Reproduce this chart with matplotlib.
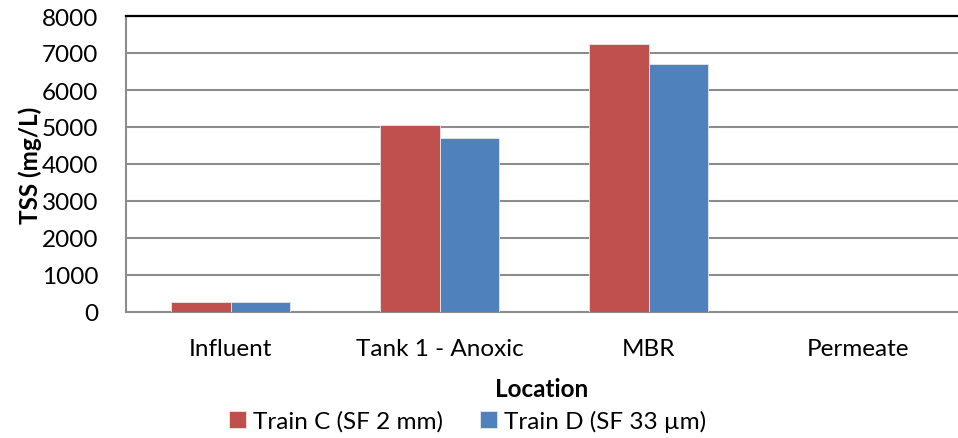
import numpy as np
import matplotlib
matplotlib.use('Agg')
import matplotlib.pyplot as plt

plt.rcParams['font.family'] = ['Lato', 'DejaVu Sans']

locations = ['Influent', 'Tank 1 - Anoxic', 'MBR', 'Permeate']
train_c = [270, 5050, 7230, 0]
train_d = [270, 4700, 6700, 0]
series_names = ['Train C (SF 2 mm)', 'Train D (SF 33 µm)']
colors = ['#C0504D', '#4F81BD']

fs = 17.5

fig = plt.figure(figsize=(9.58, 4.39), dpi=100)
ax = fig.add_axes([126 / 958, 1 - 313 / 439, 1 - 126 / 958, 296 / 439])

x = np.arange(len(locations))
w = 0.283
ax.bar(x - w / 2, train_c, w, color=colors[0], edgecolor='#e8e8e8', linewidth=0.6,
       label=series_names[0], zorder=3)
ax.bar(x + w / 2, train_d, w, color=colors[1], edgecolor='#e8e8e8', linewidth=0.6,
       label=series_names[1], zorder=3)

ax.set_xlim(-0.5, 3.48)
ax.set_ylim(0, 8000)
ax.set_yticks(np.arange(0, 8001, 1000))
ax.set_xticks(x)
ax.set_xticklabels(locations)
ax.tick_params(axis='both', length=0, labelsize=fs, colors='black')
ax.tick_params(axis='x', pad=19)
ax.tick_params(axis='y', pad=20)

ax.yaxis.grid(True, color='#8c8c8c', linewidth=1.5, zorder=0)
ax.set_axisbelow(True)
ax.spines['right'].set_visible(False)
ax.spines['top'].set_color('black')
ax.spines['top'].set_linewidth(1.6)
for s in ['left', 'bottom']:
    ax.spines[s].set_color('#8c8c8c')
    ax.spines[s].set_linewidth(1.5)

ax.set_ylabel('TSS (mg/L)', fontsize=fs, fontweight='bold', labelpad=0)
ax.set_xlabel('Location', fontsize=fs, fontweight='bold', labelpad=13)

fig.legend(loc='center', bbox_to_anchor=(0.488, 1 - 422 / 439), ncol=2, frameon=False,
           fontsize=fs, handlelength=0.7, handleheight=0.7, handletextpad=0.3,
           columnspacing=1.5, borderaxespad=0)

fig.savefig('out.png', dpi=100)
